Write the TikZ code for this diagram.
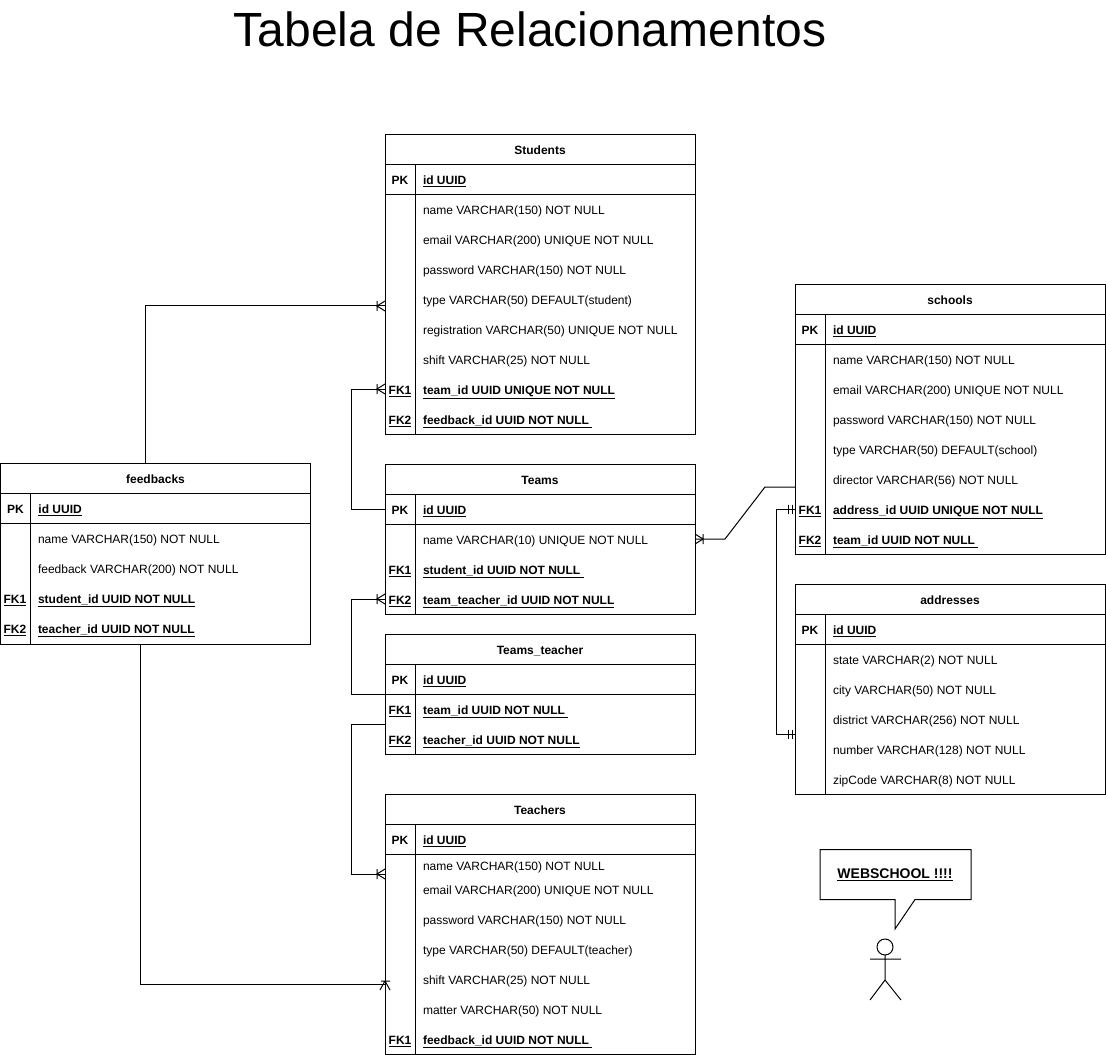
\documentclass[tikz,border=0pt]{standalone}
\usepackage{fontspec}
\setmainfont{Liberation Sans}
\tikzset{
  x=0.75pt,y=-0.75pt,
  every node/.style={inner sep=0pt,outer sep=0pt,font=\fontsize{9pt}{11pt}\selectfont},
  line/.style={draw=black,line width=0.75pt},
  entbox/.style={line,anchor=north west,minimum width=310*0.75pt},
  titletext/.style={font=\fontsize{9pt}{11pt}\selectfont\bfseries,text height=8pt,text depth=0.4pt},
  keycell/.style={anchor=west,minimum width=30*0.75pt,minimum height=30*0.75pt,font=\fontsize{9pt}{11pt}\selectfont\bfseries,text height=8pt,text depth=0.4pt},
  rowtext/.style={anchor=west,text height=8pt,text depth=0.4pt},
  rowbold/.style={rowtext,font=\fontsize{9pt}{11pt}\selectfont\bfseries},
  rel/.style={line,line join=miter},
  crowfoot/.pic={\draw[rel] (-8,-5) -- (-8,5) (0,-5) -- (-8,0) -- (0,5);},
  dblbar/.pic={\draw[rel] (-3,-4.5) -- (-3,4.5) (-7,-4.5) -- (-7,4.5);},
}
\newcommand{\ulx}[1]{\underline{#1}}
\newcommand{\ent}[5]{%
  \node[entbox,minimum height=#4*0.75pt] (#1) at (#2,#3) {};
  \node[titletext] (#1-title) at ({#2+155},{#3+15}) {#5};
  \draw[line] (#2,{#3+30}) -- ({#2+310},{#3+30});
  \draw[line] (#2,{#3+60}) -- ({#2+310},{#3+60});
  \draw[line] ({#2+30},{#3+30}) -- ({#2+30},{#3+#4});
  \node[keycell] (#1-PK) at (#2,{#3+45}) {PK};
  \node[rowbold] (#1-PKt) at ({#2+38},{#3+45}) {\ulx{id UUID}};
}
\newcommand{\fld}[4]{\node[rowtext] (#1) at ({#2+38},#3) {#4};}
\newcommand{\fk}[5]{%
  \node[keycell] (#1-#4) at (#2,#3) {\ulx{#4}};
  \node[rowbold] (#1-#4t) at ({#2+38},#3) {\ulx{#5}};
}
\begin{document}
\begin{tikzpicture}
\useasboundingbox (0,0) rectangle (1106,1055);
\fill[white] (0,0) rectangle (1106,1055);
\node[font=\fontsize{36pt}{40pt}\selectfont] (title) at (530,29) {Tabela de Relacionamentos};

% Students
\ent{stu}{385}{134.5}{300}{Students}
\fld{stu1}{385}{209}{name VARCHAR(150) NOT NULL}
\fld{stu2}{385}{239}{email VARCHAR(200) UNIQUE NOT NULL}
\fld{stu3}{385}{269}{password VARCHAR(150) NOT NULL}
\fld{stu4}{385}{299}{type VARCHAR(50) DEFAULT(student)}
\fld{stu5}{385}{329}{registration VARCHAR(50) UNIQUE NOT NULL}
\fld{stu6}{385}{359}{shift VARCHAR(25) NOT NULL}
\fk{stu}{385}{389}{FK1}{team\_id UUID UNIQUE NOT NULL}
\fk{stu}{385}{419}{FK2}{feedback\_id UUID NOT NULL\ }

% Teams
\ent{tea}{385}{464.5}{150}{Teams}
\fld{tea1}{385}{539}{name VARCHAR(10) UNIQUE NOT NULL}
\fk{tea}{385}{569}{FK1}{student\_id UUID NOT NULL\ }
\fk{tea}{385}{599}{FK2}{team\_teacher\_id UUID NOT NULL}

% Teams_teacher
\ent{tt}{385}{634.5}{120}{Teams\_teacher}
\fk{tt}{385}{709}{FK1}{team\_id UUID NOT NULL\ }
\fk{tt}{385}{739}{FK2}{teacher\_id UUID NOT NULL}

% Teachers
\ent{tch}{385}{794.5}{260}{Teachers}
\fld{tch1}{385}{865}{name VARCHAR(150) NOT NULL}
\fld{tch2}{385}{889}{email VARCHAR(200) UNIQUE NOT NULL}
\fld{tch3}{385}{919}{password VARCHAR(150) NOT NULL}
\fld{tch4}{385}{949}{type VARCHAR(50) DEFAULT(teacher)}
\fld{tch5}{385}{979}{shift VARCHAR(25) NOT NULL}
\fld{tch6}{385}{1009}{matter VARCHAR(50) NOT NULL}
\fk{tch}{385}{1039}{FK1}{feedback\_id UUID NOT NULL\ }

% feedbacks
\ent{fb}{0.5}{463.5}{180.5}{feedbacks}
\fld{fb1}{0}{538}{name VARCHAR(150) NOT NULL}
\fld{fb2}{0}{568}{feedback VARCHAR(200) NOT NULL}
\fk{fb}{0}{598}{FK1}{student\_id UUID NOT NULL}
\fk{fb}{0}{628}{FK2}{teacher\_id UUID NOT NULL}

% schools
\ent{sch}{795}{284.5}{270}{schools}
\fld{sch1}{795}{359}{name VARCHAR(150) NOT NULL}
\fld{sch2}{795}{389}{email VARCHAR(200) UNIQUE NOT NULL}
\fld{sch3}{795}{419}{password VARCHAR(150) NOT NULL}
\fld{sch4}{795}{449}{type VARCHAR(50) DEFAULT(school)}
\fld{sch5}{795}{479}{director VARCHAR(56) NOT NULL}
\fk{sch}{795}{509}{FK1}{address\_id UUID UNIQUE NOT NULL}
\fk{sch}{795}{539}{FK2}{team\_id UUID NOT NULL\ }

% addresses
\ent{adr}{795}{584.5}{210}{addresses}
\fld{adr1}{795}{659}{state VARCHAR(2) NOT NULL}
\fld{adr2}{795}{689}{city VARCHAR(50) NOT NULL}
\fld{adr3}{795}{719}{district VARCHAR(256) NOT NULL}
\fld{adr4}{795}{749}{number VARCHAR(128) NOT NULL}
\fld{adr5}{795}{779}{zipCode VARCHAR(8) NOT NULL}

% connector end points
\coordinate (fbTop) at (145,463.5);
\coordinate (stuIn) at (385,306);
\coordinate (fbBot) at (140,644);
\coordinate (tchIn) at (385,984);
\coordinate (ttA) at (385,694.5);
\coordinate (ttB) at (385,724);
\coordinate (tchTop) at (385,874);
\coordinate (teaOut) at (695,539);
\coordinate (schIn) at (795,487);
\coordinate (adrIn) at (795,734);

% connectors
\draw[rel] (fbTop) |- (stuIn);
\path (stuIn) pic {crowfoot};
\draw[rel] (tea-PK.west) -- (351,509.5) -- (351,389) -- (stu-FK1.west);
\path (stu-FK1.west) pic {crowfoot};
\draw[rel] (ttA) -- (351,694.5) -- (351,599) -- (tea-FK2.west);
\path (tea-FK2.west) pic {crowfoot};
\draw[rel] (ttB) -- (351,724) -- (351,874) -- (tchTop);
\path (tchTop) pic {crowfoot};
\draw[rel] (fbBot) |- (tchIn);
\draw[rel] (381,981) -- (390,981) (385,981) -- (380,990) (385,981) -- (390,990);
\draw[rel] (teaOut) -- (725,539) -- (765,487) -- (schIn);
\path (teaOut) pic[xscale=-1] {crowfoot};
\draw[rel] (sch-FK1.west) -- (776,509) -- (776,734) -- (adrIn);
\path (sch-FK1.west) pic {dblbar};
\path (adrIn) pic {dblbar};

% speech bubble
\draw[line,line join=miter] (820,849.5) -- (971,849.5) -- (971,899.5) -- (915,899.5) -- (895,929) -- (895,899.5) -- (820,899.5) -- cycle;
\node[font=\fontsize{10.5pt}{12pt}\selectfont\bfseries] (bubble) at (895,875) {\ulx{WEBSCHOOL !!!!}};

% actor
\draw[line] (885,947) circle (8*0.75pt);
\draw[line] (885,955) -- (885,980) (870,959) -- (901,959) (870,1000) -- (885,980) -- (901,1000);
\end{tikzpicture}
\end{document}
